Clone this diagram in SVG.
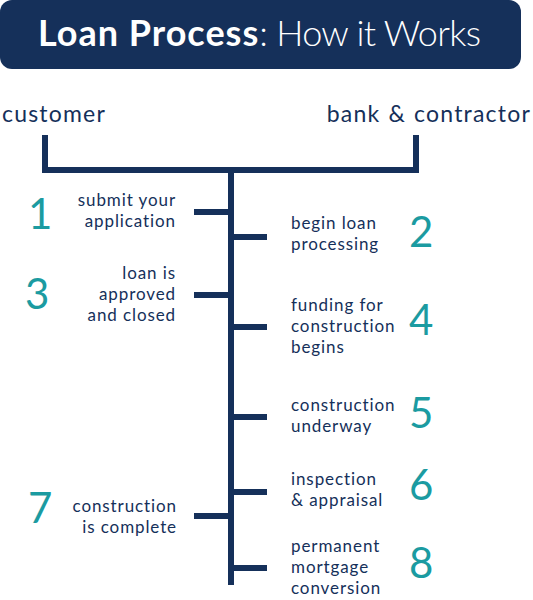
<svg xmlns="http://www.w3.org/2000/svg" width="533" height="600" viewBox="0 0 533 600">
<style>
.lbl{font-family:Lato,"Noto Sans",sans-serif;font-size:17px;fill:#15305a;letter-spacing:0.9px}
.l{text-anchor:end}
.num{font-family:Lato,"Noto Sans",sans-serif;font-size:42px;font-weight:normal;fill:#1b9ba1}
.hdr{font-family:Lato,"Noto Sans",sans-serif;font-size:23px;fill:#15305a;letter-spacing:1.2px;word-spacing:1px}
.ln{stroke:#15305a;stroke-width:6;fill:none}
</style>
<rect x="0" y="0" width="521" height="69" rx="12" fill="#15305a"/>
<text x="38" y="46" font-family="Lato,'Noto Sans',sans-serif" font-size="36" fill="#fff"><tspan font-weight="bold" letter-spacing="1">Loan Process</tspan><tspan font-weight="300" letter-spacing="-0.7">: How it Works</tspan></text>
<text class="hdr" x="2" y="122">customer</text>
<text class="hdr" x="531" y="122" text-anchor="end">bank &amp; contractor</text>
<g id="connectors">
<polyline class="ln" points="45,135 45,170 416,170 416,135"/>
<line class="ln" x1="231" y1="167" x2="231" y2="585"/>
<line class="ln" x1="194" y1="212" x2="231" y2="212"/>
<line class="ln" x1="231" y1="237" x2="267" y2="237"/>
<line class="ln" x1="194" y1="295" x2="231" y2="295"/>
<line class="ln" x1="231" y1="327" x2="267" y2="327"/>
<line class="ln" x1="231" y1="417" x2="267" y2="417"/>
<line class="ln" x1="231" y1="492" x2="267" y2="492"/>
<line class="ln" x1="194" y1="516" x2="231" y2="516"/>
<line class="ln" x1="231" y1="568" x2="267" y2="568"/>
</g>
<g id="step1"><text class="num" x="28" y="229">1</text><text class="lbl l" x="176" y="206">submit your</text><text class="lbl l" x="176" y="227">application</text></g>
<g id="step2"><text class="num" x="409" y="247">2</text><text class="lbl" x="291" y="229">begin loan</text><text class="lbl" x="291" y="250">processing</text></g>
<g id="step3"><text class="num" x="25" y="309">3</text><text class="lbl l" x="176" y="279">loan is</text><text class="lbl l" x="176" y="300">approved</text><text class="lbl l" x="176" y="321">and closed</text></g>
<g id="step4"><text class="num" x="409" y="335">4</text><text class="lbl" x="291" y="311">funding for</text><text class="lbl" x="291" y="332">construction</text><text class="lbl" x="291" y="353">begins</text></g>
<g id="step5"><text class="num" x="409" y="428">5</text><text class="lbl" x="291" y="411">construction</text><text class="lbl" x="291" y="432">underway</text></g>
<g id="step6"><text class="num" x="409" y="500">6</text><text class="lbl" x="291" y="485">inspection</text><text class="lbl" x="291" y="506">&amp; appraisal</text></g>
<g id="step7"><text class="num" x="28" y="523">7</text><text class="lbl l" x="177" y="512">construction</text><text class="lbl l" x="177" y="533">is complete</text></g>
<g id="step8"><text class="num" x="409" y="578">8</text><text class="lbl" x="291" y="552">permanent</text><text class="lbl" x="291" y="573">mortgage</text><text class="lbl" x="291" y="594">conversion</text></g>
</svg>
